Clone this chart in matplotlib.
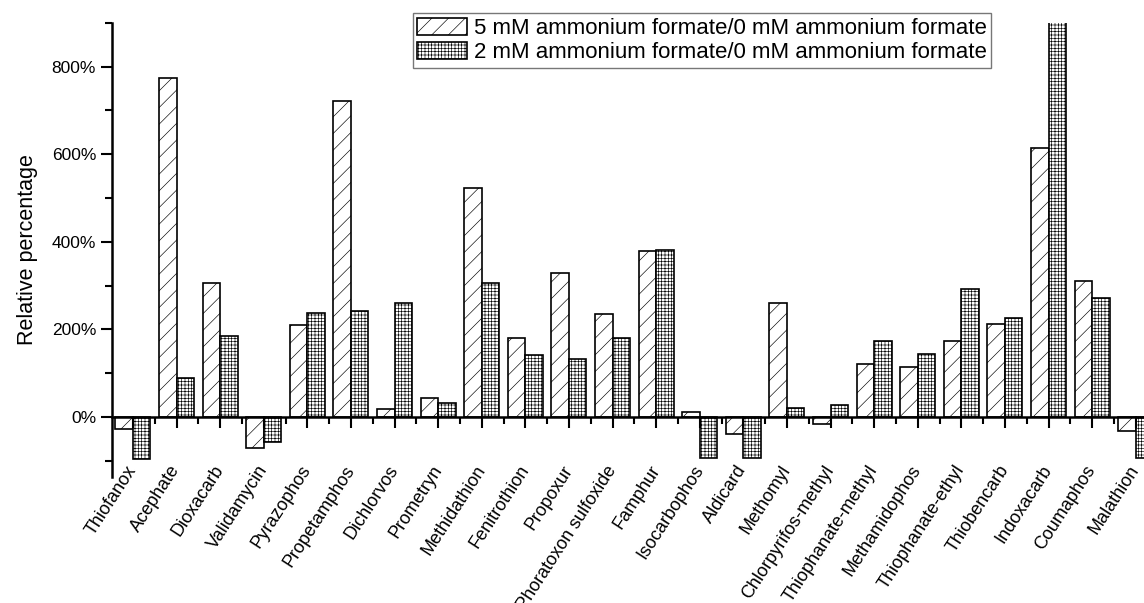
import matplotlib
matplotlib.use("Agg")
import matplotlib.pyplot as plt
import numpy as np
from matplotlib.ticker import FixedLocator, FuncFormatter

plt.rcParams['font.family'] = ['Liberation Sans', 'DejaVu Sans']
plt.rcParams['hatch.linewidth'] = 0.45

compounds = ["Thiofanox", "Acephate", "Dioxacarb", "Validamycin", "Pyrazophos",
             "Propetamphos", "Dichlorvos", "Prometryn", "Methidathion", "Fenitrothion",
             "Propoxur", "Phoratoxon sulfoxide", "Famphur", "Isocarbophos", "Aldicard",
             "Methomyl", "Chlorpyrifos-methyl", "Thiophanate-methyl", "Methamidophos",
             "Thiophanate-ethyl", "Thiobencarb", "Indoxacarb", "Coumaphos", "Malathion"]
ratio_5mM = [-27, 775, 306, -71, 210, 722, 18, 43, 523, 181, 329, 235, 379, 11, -39,
             261, -16, 121, 114, 174, 212, 615, 311, -32]
ratio_2mM = [-96, 89, 185, -57, 238, 242, 261, 32, 306, 142, 133, 181, 382, -94, -94,
             21, 27, 174, 144, 293, 226, 905, 272, -94]
label_5mM = "5 mM ammonium formate/0 mM ammonium formate"
label_2mM = "2 mM ammonium formate/0 mM ammonium formate"

fig = plt.figure(figsize=(11.44, 6.03), dpi=100)
ax = fig.add_axes([0.0979, 0.209, 0.9021, 0.753])

x = np.arange(len(compounds))
w = 0.4
ax.bar(x - w / 2, ratio_5mM, w, facecolor='white', edgecolor='black', linewidth=1.2,
       hatch='//', label=label_5mM)
ax.bar(x + w / 2, ratio_2mM, w, facecolor='white', edgecolor='black', linewidth=1.2,
       hatch='+++++', label=label_2mM)

ax.set_xlim(-0.48, 23.19)
ax.set_ylim(-137, 900)

for s in ['top', 'right']:
    ax.spines[s].set_visible(False)
ax.spines['bottom'].set_position(('data', 0))
ax.spines['bottom'].set_linewidth(1.8)
ax.spines['left'].set_linewidth(1.8)

ax.xaxis.set_major_locator(FixedLocator(x))
ax.xaxis.set_minor_locator(FixedLocator(x[:-1] + 0.5))
ax.set_xticklabels(compounds, rotation=57, ha='right', va='center',
                   rotation_mode='anchor', fontsize=13)
ax.tick_params(axis='x', which='major', direction='out', length=8, width=1.5, pad=28)
ax.tick_params(axis='x', which='minor', direction='out', length=5, width=1.5)

ax.yaxis.set_major_locator(FixedLocator([0, 200, 400, 600, 800]))
ax.yaxis.set_minor_locator(FixedLocator([-100, 100, 300, 500, 700, 900]))
ax.yaxis.set_major_formatter(FuncFormatter(lambda v, p: f"{int(v)}%"))
ax.tick_params(axis='y', which='major', direction='out', length=8, width=1.5, labelsize=12.5)
ax.tick_params(axis='y', which='minor', direction='out', length=5, width=1.5)
ax.set_ylabel("Relative percentage", fontsize=15.5, labelpad=10)

leg = ax.legend(loc='upper left', bbox_to_anchor=(0.361, 0.978),
                bbox_transform=fig.transFigure, fontsize=16, frameon=True,
                fancybox=False, framealpha=1, edgecolor='#777777',
                handlelength=2.25, handleheight=0.8, handletextpad=0.3,
                labelspacing=0.15, borderpad=0.2, borderaxespad=0)
leg.get_frame().set_linewidth(1.0)

fig.savefig("out.png", dpi=100)
